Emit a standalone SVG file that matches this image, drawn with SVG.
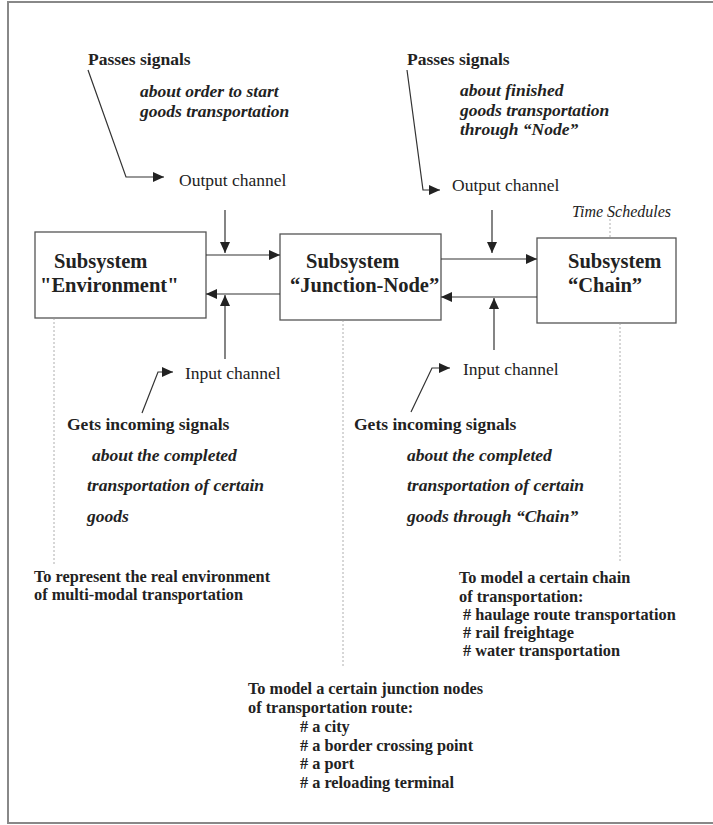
<svg xmlns="http://www.w3.org/2000/svg" width="713" height="825" viewBox="0 0 713 825">
<style>
text{font-family:"Liberation Serif","Times New Roman",serif;fill:#222}
.b{font-weight:bold;font-size:17.5px}
.bi{font-weight:bold;font-style:italic;font-size:17.5px}
.r{font-size:17.5px}
.box{fill:#fff;stroke:#555;stroke-width:1.3}
.bt{font-weight:bold;font-size:20.5px}
.ln{fill:none;stroke:#333;stroke-width:1.2}
.dot{fill:none;stroke:#999;stroke-width:0.8;stroke-dasharray:2,2}
.sm{font-weight:bold;font-size:16.3px}
</style>
<defs>
<marker id="ah" markerUnits="userSpaceOnUse" markerWidth="12" markerHeight="10" viewBox="0 0 12 10" refX="11" refY="5" orient="auto">
<path d="M0,0 L11,5 L0,10 Z" fill="#222"/>
</marker>
</defs>
<rect x="8" y="2" width="720" height="821" fill="#fff" stroke="#888" stroke-width="2"/>

<g id="node-environment">
<rect class="box" x="35" y="232" width="171" height="86"/>
<text class="bt" x="54" y="268">Subsystem</text>
<text class="bt" x="40" y="292">"Environment"</text>
</g>
<g id="node-junction">
<rect class="box" x="280" y="234" width="161" height="86"/>
<text class="bt" x="306" y="268">Subsystem</text>
<text class="bt" x="290" y="292">“Junction-Node”</text>
</g>
<g id="node-chain">
<rect class="box" x="537" y="238" width="139" height="85"/>
<text class="bt" x="568" y="268">Subsystem</text>
<text class="bt" x="568" y="292">“Chain”</text>
</g>

<g id="labels">
<text class="b" x="88" y="65">Passes signals</text>
<text class="bi" x="140" y="97">about order to start</text>
<text class="bi" x="140" y="117">goods transportation</text>
<text class="r" x="179" y="186">Output channel</text>

<text class="b" x="407" y="65">Passes signals</text>
<text class="bi" x="460" y="96">about finished</text>
<text class="bi" x="460" y="116">goods transportation</text>
<text class="bi" x="460" y="135">through “Node”</text>
<text class="r" x="452" y="191">Output channel</text>

<text x="572" y="217" style="font-style:italic;font-size:16px">Time Schedules</text>

<text class="r" x="185" y="379">Input channel</text>
<text class="b" x="67" y="430">Gets incoming signals</text>
<text class="bi" x="92" y="461">about the completed</text>
<text class="bi" x="87" y="491">transportation of certain</text>
<text class="bi" x="87" y="522">goods</text>

<text class="r" x="463" y="375">Input channel</text>
<text class="b" x="354" y="430">Gets incoming signals</text>
<text class="bi" x="407" y="461">about the completed</text>
<text class="bi" x="407" y="491">transportation of certain</text>
<text class="bi" x="407" y="522">goods through “Chain”</text>

<text class="sm" x="34" y="582">To represent the real environment</text>
<text class="sm" x="34" y="600">of multi-modal transportation</text>

<text class="sm" x="459" y="583">To model a certain chain</text>
<text class="sm" x="459" y="602">of transportation:</text>
<text class="sm" x="463" y="620"># haulage route transportation</text>
<text class="sm" x="463" y="638"># rail freightage</text>
<text class="sm" x="463" y="656"># water transportation</text>

<text class="sm" x="248" y="694">To model a certain junction nodes</text>
<text class="sm" x="248" y="713">of transportation route:</text>
<text class="sm" x="300" y="732"># a city</text>
<text class="sm" x="300" y="751"># a border crossing point</text>
<text class="sm" x="300" y="769"># a port</text>
<text class="sm" x="300" y="788"># a reloading terminal</text>
</g>

<g id="connectors">
<line class="ln" x1="206" y1="255" x2="280" y2="255" marker-end="url(#ah)"/>
<line class="ln" x1="280" y1="294" x2="206" y2="294" marker-end="url(#ah)"/>
<line class="ln" x1="225" y1="210" x2="225" y2="253" marker-end="url(#ah)"/>
<line class="ln" x1="225" y1="359" x2="225" y2="295" marker-end="url(#ah)"/>

<line class="ln" x1="441" y1="259" x2="537" y2="259" marker-end="url(#ah)"/>
<line class="ln" x1="537" y1="297" x2="441" y2="297" marker-end="url(#ah)"/>
<line class="ln" x1="492" y1="210" x2="492" y2="253" marker-end="url(#ah)"/>
<line class="ln" x1="494" y1="350" x2="494" y2="298" marker-end="url(#ah)"/>

<polyline class="ln" points="88,70 126,177 164,177" marker-end="url(#ah)"/>
<polyline class="ln" points="407,70 423,190 440,190" marker-end="url(#ah)"/>
<polyline class="ln" points="142,413 158,372 173,372" marker-end="url(#ah)"/>
<polyline class="ln" points="411,412 432,368 450,368" marker-end="url(#ah)"/>

<line class="dot" x1="54" y1="318" x2="54" y2="565"/>
<line class="dot" x1="343" y1="320" x2="343" y2="667"/>
<line class="dot" x1="620" y1="323" x2="620" y2="562"/>
<line class="dot" x1="610" y1="219" x2="610" y2="238"/>
</g>
</svg>
